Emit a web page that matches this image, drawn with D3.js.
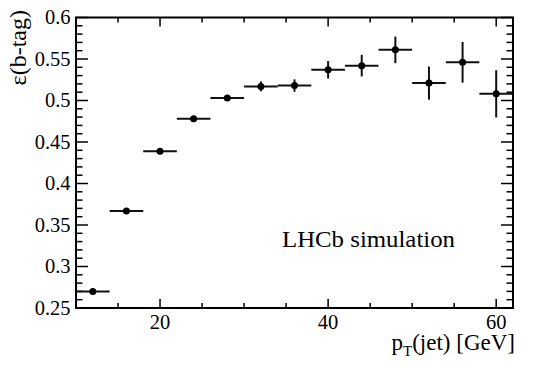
<!DOCTYPE html>
<html>
<head>
<meta charset="utf-8">
<script src="https://cdn.jsdelivr.net/npm/d3@7"></script>
<style>
    #chart text, #chart tspan { font-family: "Liberation Serif", "Times New Roman", serif !important; }
</style>
</head>
<body style="margin:0">
<svg id="chart" width="540" height="367"></svg>
<script>

// Data: b-tag efficiency per jet pT bin (bin width 4 GeV).

const binCentres = [12, 16, 20, 24, 28, 32, 36, 40, 44, 48, 52, 56, 60];
const efficiency = [0.270, 0.367, 0.439, 0.478, 0.503, 0.517, 0.518, 0.537, 0.542, 0.561, 0.521, 0.546, 0.508];
const effError   = [0.001, 0.0015, 0.002, 0.002, 0.003, 0.006, 0.0075, 0.0105, 0.013, 0.016, 0.020, 0.0245, 0.0285];
const binHalfWidth = 2;

const xTickLabels = [20, 40, 60];
const yTickLabels = [0.25, 0.3, 0.35, 0.4, 0.45, 0.5, 0.55, 0.6];

const plot = d3.select("#chart");

function serif(sel) {
    return sel.style("font-family", "'Liberation Serif'");
}

// Frame.

const margin = { "T": 17.5, "B": 59, "L": 76, "R": 27 };
const W = 540, H = 367;

const xScale = d3.scaleLinear()
    .domain([10, 62])
    .range([margin.L, W - margin.R]);

const yScale = d3.scaleLinear()
    .domain([0.25, 0.6])
    .range([H - margin.B, margin.T]);

const ink = "#000";

// Ticks, drawn on all four sides like ROOT does.

function ticks(step, from, to) {
    return d3.range(from, to + 1e-9, step).map(v => +v.toFixed(4));
}

const xMajor = ticks(20, 20, 60);
const xMinor = ticks(5, 15, 60).filter(v => !xMajor.includes(v));
const yMajor = ticks(0.05, 0.25, 0.6);
const yMinor = ticks(0.01, 0.25, 0.6).filter(v => !yMajor.some(m => Math.abs(m - v) < 1e-6));

const axes = plot.append("g")
    .attr("stroke", ink)
    .attr("stroke-width", 1.5);

const x0 = xScale.range()[0], x1 = xScale.range()[1];
const y0 = yScale.range()[0], y1 = yScale.range()[1];

function xTicks(values, len) {
    values.forEach(v => {
        const x = xScale(v);
        axes.append("line").attr("x1", x).attr("x2", x).attr("y1", y0).attr("y2", y0 - len);
        axes.append("line").attr("x1", x).attr("x2", x).attr("y1", y1).attr("y2", y1 + len);
    });
}

function yTicks(values, len) {
    values.forEach(v => {
        const y = yScale(v);
        axes.append("line").attr("x1", x0).attr("x2", x0 + len).attr("y1", y).attr("y2", y);
        axes.append("line").attr("x1", x1).attr("x2", x1 - len).attr("y1", y).attr("y2", y);
    });
}

xTicks(xMajor, 9);
xTicks(xMinor, 5);
yTicks(yMajor, 12);
yTicks(yMinor, 6.5);

axes.append("rect")
    .attr("x", x0)
    .attr("y", y1)
    .attr("width", x1 - x0)
    .attr("height", y0 - y1)
    .attr("fill", "none")
    .attr("stroke-width", 2);

// Tick labels.

plot.append("g")
    .selectAll("text")
    .data(xTickLabels)
    .join("text")
        .call(serif)
        .attr("x", d => xScale(d))
        .attr("y", y0 + 21)
        .attr("text-anchor", "middle")
        .attr("font-size", 20.5)
        .text(d => d);

plot.append("g")
    .selectAll("text")
    .data(yTickLabels)
    .join("text")
        .call(serif)
        .attr("x", x0 - 5.5)
        .attr("y", d => yScale(d) + 6.5)
        .attr("text-anchor", "end")
        .attr("font-size", 20.5)
        .text(d => d);

// Axis titles.

const xTitle = plot.append("text")
    .call(serif)
    .attr("x", 515)
    .attr("y", 350)
    .attr("text-anchor", "end")
    .attr("font-size", 23);
xTitle.append("tspan").text("p");
xTitle.append("tspan").attr("font-size", 15).attr("dy", 6).text("T");
xTitle.append("tspan").attr("dy", -6).text("(jet) [GeV]");

plot.append("text")
    .call(serif)
    .attr("transform", "translate(26, 10) rotate(-90)")
    .attr("text-anchor", "end")
    .attr("font-size", 24)
    .text("ε(b-tag)");

// Label.

plot.append("text")
    .call(serif)
    .attr("x", 282)
    .attr("y", 247)
    .attr("font-size", 23)
    .attr("textLength", 173)
    .attr("lengthAdjust", "spacingAndGlyphs")
    .text("LHCb simulation");

// Data points with error bars.

const pts = binCentres.map((c, i) => ({ "x": c, "y": efficiency[i], "e": effError[i] }));

const bars = plot.append("g")
    .attr("stroke", "#111")
    .attr("stroke-width", 2);

bars.selectAll(".hbar")
    .data(pts)
    .join("line")
        .attr("x1", d => xScale(d.x - binHalfWidth))
        .attr("x2", d => xScale(d.x + binHalfWidth))
        .attr("y1", d => yScale(d.y))
        .attr("y2", d => yScale(d.y));

bars.selectAll(".vbar")
    .data(pts)
    .join("line")
        .attr("x1", d => xScale(d.x))
        .attr("x2", d => xScale(d.x))
        .attr("y1", d => yScale(d.y - d.e))
        .attr("y2", d => yScale(d.y + d.e));

plot.append("g")
    .selectAll("circle")
    .data(pts)
    .join("circle")
        .attr("cx", d => xScale(d.x))
        .attr("cy", d => yScale(d.y))
        .attr("r", 3.5)
        .attr("fill", ink);

</script>
</body>
</html>
